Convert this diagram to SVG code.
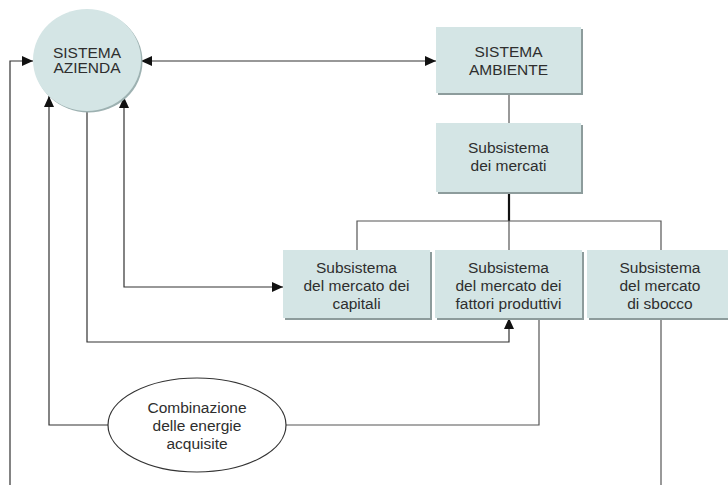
<svg xmlns="http://www.w3.org/2000/svg" width="728" height="485" viewBox="0 0 728 485">
  <style>
    .box { fill: #d4e5e5; }
    .shadow { fill: #8d9c9c; }
    .label { font-family: "Liberation Sans", Arial, sans-serif; font-size: 15.5px; fill: #2e2e2e; text-anchor: middle; }
    .link { fill: none; stroke: #333333; stroke-width: 1.2; }
    .tree { fill: none; stroke: #555555; stroke-width: 1.2; }
    .trunk { fill: none; stroke: #111111; stroke-width: 2.2; }
  </style>
  <defs>
    <marker id="arrow" markerUnits="userSpaceOnUse" markerWidth="11" markerHeight="10" refX="11" refY="5" orient="auto-start-reverse">
      <path d="M0,0 L11,5 L0,10 z" fill="#111111"/>
    </marker>
  </defs>
  <rect width="728" height="485" fill="#ffffff"/>

  <!-- connectors -->
  <g id="connectors">
    <path class="tree" d="M509,93 V123"/>
    <path class="trunk" d="M509,192 V221"/>
    <path class="tree" d="M357,250 V221 H661 V250 M509,221 V250"/>
    <path class="link" d="M141,61 H436" marker-start="url(#arrow)" marker-end="url(#arrow)"/>
    <path class="link" d="M10,485 V61 H33" marker-end="url(#arrow)"/>
    <path class="link" d="M124,97 V287 H283" marker-start="url(#arrow)" marker-end="url(#arrow)"/>
    <path class="link" d="M87,111 V342 H509 V318" marker-end="url(#arrow)"/>
    <path class="link" d="M108,425 H49 V96" marker-end="url(#arrow)"/>
    <path class="tree" d="M286,425 H539 V318"/>
    <path class="tree" d="M661,318 V485"/>
  </g>

  <!-- central company system -->
  <g id="sistema-azienda">
    <ellipse cx="88.5" cy="61.5" rx="54" ry="51" fill="#9db1b1"/>
    <ellipse cx="87" cy="60" rx="54" ry="51" fill="#d4e5e5"/>
    <text class="label" x="87" y="57.5">SISTEMA</text>
    <text class="label" x="87" y="73">AZIENDA</text>
  </g>

  <g id="sistema-ambiente">
    <rect class="shadow" x="438" y="29" width="145" height="66"/>
    <rect class="box" x="436" y="27" width="145" height="66"/>
    <text class="label" x="508.5" y="57">SISTEMA</text>
    <text class="label" x="508.5" y="74.5">AMBIENTE</text>
  </g>

  <g id="subsistema-mercati">
    <rect class="shadow" x="438" y="125" width="145" height="69"/>
    <rect class="box" x="436" y="123" width="145" height="69"/>
    <text class="label" x="508.5" y="153">Subsistema</text>
    <text class="label" x="508.5" y="171">dei mercati</text>
  </g>

  <g id="mercato-capitali">
    <rect class="shadow" x="285" y="252" width="147" height="68"/>
    <rect class="box" x="283" y="250" width="147" height="68"/>
    <text class="label" x="356.5" y="273">Subsistema</text>
    <text class="label" x="356.5" y="291">del mercato dei</text>
    <text class="label" x="356.5" y="309">capitali</text>
  </g>

  <g id="mercato-fattori">
    <rect class="shadow" x="437" y="252" width="147" height="68"/>
    <rect class="box" x="435" y="250" width="147" height="68"/>
    <text class="label" x="508.5" y="273">Subsistema</text>
    <text class="label" x="508.5" y="291">del mercato dei</text>
    <text class="label" x="508.5" y="309">fattori produttivi</text>
  </g>

  <g id="mercato-sbocco">
    <rect class="shadow" x="589" y="252" width="145" height="68"/>
    <rect class="box" x="587" y="250" width="145" height="68"/>
    <text class="label" x="660" y="273">Subsistema</text>
    <text class="label" x="660" y="291">del mercato</text>
    <text class="label" x="660" y="309">di sbocco</text>
  </g>

  <g id="combinazione">
    <ellipse cx="197" cy="425" rx="89" ry="47" fill="#ffffff" stroke="#333333" stroke-width="1.2"/>
    <text class="label" x="197" y="413">Combinazione</text>
    <text class="label" x="197" y="431">delle energie</text>
    <text class="label" x="197" y="449">acquisite</text>
  </g>
</svg>
